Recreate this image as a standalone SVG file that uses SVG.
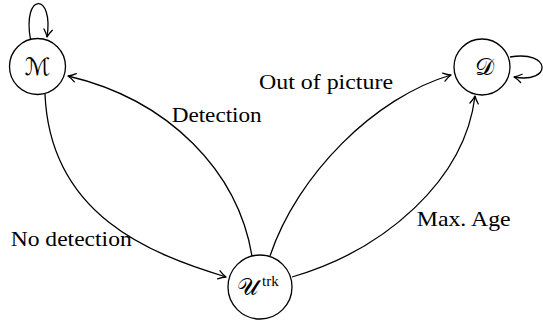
<svg xmlns="http://www.w3.org/2000/svg" width="543" height="320" viewBox="0 0 543 320">
<style>
.node circle{fill:#fff;stroke:#000;stroke-width:1.3}
.edge{fill:none;stroke:#000;stroke-width:1.3;marker-end:url(#arr)}
.lbl{font-family:"Liberation Serif","DejaVu Serif",serif;font-size:21.5px;fill:#000}
.sym{font-family:"DejaVu Serif","DejaVu Sans","Liberation Serif",serif;font-size:24px;fill:#000}
.sup{font-family:"Liberation Serif","DejaVu Serif",serif;font-size:15px;fill:#000}
</style>
<defs>
<marker id="arr" markerUnits="userSpaceOnUse" markerWidth="12" markerHeight="12" viewBox="-9 -6 10 12" refX="0" refY="0" orient="auto" overflow="visible">
<path d="M-7.5,-4.2 C-5,-2.4 -2,-0.7 0,0 C-2,0.7 -5,2.4 -7.5,4.2" fill="none" stroke="#000" stroke-width="1.3" stroke-linecap="round" stroke-linejoin="round"/>
</marker>
</defs>
<g id="connectors">
<path class="edge" d="M30.5,39.5 C22,-8 54,-8 47,37"/>
<path class="edge" d="M510,57 C552,50 552,84 514,77"/>
<path class="edge" d="M45,94 C50,215 150,254 226,277"/>
<path class="edge" d="M252,256 C238,172 170,100 68,76"/>
<path class="edge" d="M270,256 C297,175 375,97 451,75"/>
<path class="edge" d="M292,277 C385,250 465,180 475,96"/>
<text class="lbl" x="10.7" y="246" textLength="121" lengthAdjust="spacingAndGlyphs">No detection</text>
<text class="lbl" x="171.7" y="122" textLength="90" lengthAdjust="spacingAndGlyphs">Detection</text>
<text class="lbl" x="259" y="89" textLength="134" lengthAdjust="spacingAndGlyphs">Out of picture</text>
<text class="lbl" x="416.7" y="226" textLength="94" lengthAdjust="spacingAndGlyphs">Max.  Age</text>
</g>
<g id="node-M" class="node">
<circle cx="37.5" cy="66.5" r="28"/>
<text class="sym" x="37.5" y="75" text-anchor="middle">ℳ</text>
</g>
<g id="node-D" class="node">
<circle cx="482" cy="67" r="28"/>
<text class="sym" x="484" y="75" text-anchor="middle">𝒟</text>
</g>
<g id="node-U" class="node">
<circle cx="260" cy="287" r="32"/>
<text class="sym" x="237" y="295">𝒰</text>
<text class="sup" x="262" y="286">trk</text>
</g>
</svg>
